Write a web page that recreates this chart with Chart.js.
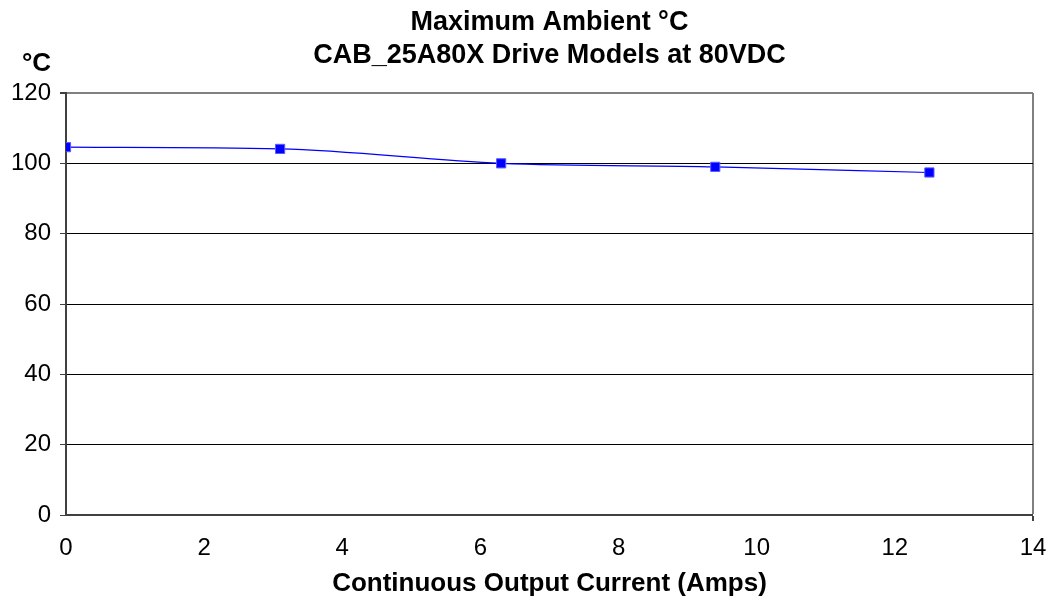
<!DOCTYPE html>
<html>
<head>
<meta charset="utf-8">
<script src="https://cdn.jsdelivr.net/npm/chart.js@4/dist/chart.umd.min.js"></script>
<style>
  html, body { margin: 0; padding: 0; background: #ffffff; }
  #wrap { width: 1056px; height: 602px; }
</style>
</head>
<body>
<div id="wrap"><canvas id="chart" width="1056" height="602"></canvas></div>
<script>
// Continuous output current (A) and the matching maximum ambient temperature (°C)
const currentAmps = [0, 3.1, 6.3, 9.4, 12.5];
const maxAmbientC = [104.6, 104.1, 100.0, 99.0, 97.4];

const titleLines = ['Maximum Ambient °C', 'CAB_25A80X Drive Models at 80VDC'];
const yUnitLabel = '°C';
const xAxisTitle = 'Continuous Output Current (Amps)';

const FONT = "'Liberation Sans', Arial, sans-serif";

// Two-line heading centred over the plot area, plus the unit label above the value axis
const headingPlugin = {
  id: 'heading',
  afterDraw(chart) {
    const ctx = chart.ctx;
    const area = chart.chartArea;
    ctx.save();
    ctx.fillStyle = '#000';
    ctx.textAlign = 'center';
    ctx.textBaseline = 'middle';
    ctx.font = 'bold 27px ' + FONT;
    const cx = (area.left + area.right) / 2;
    titleLines.forEach((line, i) => {
      ctx.fillText(line, cx, area.top - 70 + i * 32.4);
    });
    ctx.font = 'bold 26px ' + FONT;
    ctx.fillText(yUnitLabel, area.left - 29.5, area.top - 29);
    ctx.restore();
  }
};

new Chart(document.getElementById('chart'), {
  type: 'scatter',
  data: {
    datasets: [{
      data: currentAmps.map((x, i) => ({ x: x, y: maxAmbientC[i] })),
      showLine: true,
      borderColor: '#0000ff',
      borderWidth: 1.2,
      cubicInterpolationMode: 'monotone',
      pointStyle: 'rect',
      pointRadius: 6.5,
      pointHoverRadius: 6.5,
      pointBackgroundColor: '#0000ff',
      pointBorderColor: '#5a5aff',
      pointBorderWidth: 1
    }]
  },
  options: {
    responsive: false,
    animation: false,
    layout: { padding: { left: 0, right: 23, top: 93, bottom: 0 } },
    plugins: {
      legend: { display: false },
      tooltip: { enabled: false },
      title: { display: false }
    },
    scales: {
      x: {
        type: 'linear',
        min: 0,
        max: 14,
        ticks: {
          stepSize: 2,
          color: '#000',
          padding: 13,
          font: { family: FONT, size: 24 }
        },
        grid: {
          drawOnChartArea: true,
          color: (c) => (c.tick && c.tick.value === 14 ? '#808080' : 'rgba(0,0,0,0)'),
          lineWidth: (c) => (c.tick && c.tick.value === 14 ? 2 : 0),
          tickColor: '#404040',
          tickLength: 6
        },
        border: { color: '#404040', width: 2 },
        title: {
          display: true,
          text: xAxisTitle,
          color: '#000',
          font: { family: FONT, size: 26, weight: 'bold' },
          padding: { top: 0, bottom: 2.5 }
        },
        afterFit(scale) {
          scale.height = 87;
          scale.paddingRight = 0;
        }
      },
      y: {
        min: 0,
        max: 120,
        ticks: {
          stepSize: 20,
          color: '#000',
          padding: 9,
          font: { family: FONT, size: 24 }
        },
        grid: {
          color: (c) => (c.tick && c.tick.value === 120 ? '#808080' : '#000000'),
          lineWidth: (c) => (c.tick && c.tick.value === 120 ? 2 : 1),
          tickColor: '#404040',
          tickLength: 6
        },
        border: { color: '#404040', width: 2 },
        afterFit(scale) { scale.width = 66; }
      }
    }
  },
  plugins: [headingPlugin]
});
</script>
</body>
</html>
